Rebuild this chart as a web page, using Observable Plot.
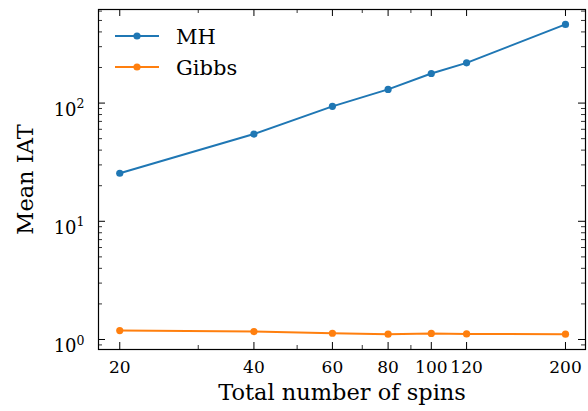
<!DOCTYPE html>
<html><head><meta charset="utf-8">
<script src="https://cdn.jsdelivr.net/npm/d3@7"></script>
<script src="https://cdn.jsdelivr.net/npm/@observablehq/plot@0.6"></script>
<style>body{margin:0;background:#fff} svg{display:block}</style>
</head><body><div id="chart"></div>
<script>
const spins = [20, 40, 60, 80, 100, 120, 200];
const mhIAT = [25.5, 54.7, 93.8, 130.6, 178, 219, 463];
const gibbsIAT = [1.19, 1.168, 1.13, 1.11, 1.125, 1.115, 1.11];
const seriesNames = ["MH", "Gibbs"];
const seriesColors = ["#1f77b4", "#ff7f0e"];
const xMajorTicks = [20, 40, 60, 80, 100, 120, 200];
const xMinorTicks = [30, 50, 70, 90];
const yMajorTicks = [1, 10, 100];
const yMinorTicks = [0.9, 2, 3, 4, 5, 6, 7, 8, 9, 20, 30, 40, 50, 60, 70, 80, 90, 200, 300, 400, 500, 600];
const xLabel = "Total number of spins";
const yLabel = "Mean IAT";

const data = [];
spins.forEach((s, i) => data.push({spins: s, iat: mhIAT[i], series: seriesNames[0]}));
spins.forEach((s, i) => data.push({spins: s, iat: gibbsIAT[i], series: seriesNames[1]}));

const W = 588, H = 411, mT = 9, mB = 62, mL = 98, mR = 3;
const innerH = H - mT - mB, innerW = W - mL - mR;
const serif = "'DejaVu Serif', serif";
const majLen = 7, minLen = 4;

const chart = Plot.plot({
  width: W, height: H, marginTop: mT, marginBottom: mB, marginLeft: mL, marginRight: mR,
  style: {fontFamily: serif, background: "#fff", color: "#000"},
  x: {type: "log", domain: [17.92, 221.8]},
  y: {type: "log", domain: [0.823, 619]},
  color: {domain: seriesNames, range: seriesColors},
  marks: [
    Plot.line(data, {x: "spins", y: "iat", stroke: "series", z: "series", strokeWidth: 2}),
    Plot.dot(data, {x: "spins", y: "iat", fill: "series", r: 3.6}),
    Plot.tickX(xMajorTicks, {x: d => d, insetTop: innerH - majLen, stroke: "#000", strokeWidth: 1}),
    Plot.tickX(xMajorTicks, {x: d => d, insetBottom: innerH - majLen, stroke: "#000", strokeWidth: 1}),
    Plot.tickX(xMinorTicks, {x: d => d, insetTop: innerH - minLen, stroke: "#000", strokeWidth: 0.8}),
    Plot.tickX(xMinorTicks, {x: d => d, insetBottom: innerH - minLen, stroke: "#000", strokeWidth: 0.8}),
    Plot.tickY(yMajorTicks, {y: d => d, insetRight: innerW - majLen, stroke: "#000", strokeWidth: 1}),
    Plot.tickY(yMajorTicks, {y: d => d, insetLeft: innerW - majLen, stroke: "#000", strokeWidth: 1}),
    Plot.tickY(yMinorTicks, {y: d => d, insetRight: innerW - minLen, stroke: "#000", strokeWidth: 0.8}),
    Plot.tickY(yMinorTicks, {y: d => d, insetLeft: innerW - minLen, stroke: "#000", strokeWidth: 0.8}),
    Plot.axisX({ticks: xMajorTicks, tickSize: 0, tickPadding: 11, tickFormat: d => String(d), fontSize: 17, label: null}),
    Plot.axisY({ticks: yMajorTicks, tickSize: 0, tickPadding: 14, tickFormat: d => "10^" + Math.round(Math.log10(d)), fontSize: 18, label: null}),
    Plot.frame({stroke: "#000", strokeWidth: 1.2}),
    Plot.text([xLabel], {frameAnchor: "bottom", textAnchor: "middle", dy: 50, text: d => d, fontSize: 22.5, fill: "#000"}),
    Plot.text([yLabel], {frameAnchor: "left", textAnchor: "middle", dx: -73, rotate: -90, text: d => d, fontSize: 22.5, fill: "#000"})
  ]
});

document.getElementById("chart").appendChild(chart);

// superscript formatting of y tick labels
d3.select(chart).selectAll('g[aria-label="y-axis tick label"] text').each(function() {
  const t = this.textContent;
  const [base, exp] = t.split("^");
  const sel = d3.select(this);
  sel.text(null).attr("dy", "0.38em");
  sel.append("tspan").text(base);
  sel.append("tspan").attr("font-size", 12.5).attr("dy", -7.5).text(exp);
});

// legend
const svg = d3.select(chart);
const leg = svg.append("g").attr("font-family", serif).attr("font-size", 21).attr("text-anchor", "start");
seriesNames.forEach((name, i) => {
  const y = 36 + i * 31;
  leg.append("line").attr("x1", 115).attr("x2", 159).attr("y1", y).attr("y2", y)
    .attr("stroke", seriesColors[i]).attr("stroke-width", 2);
  leg.append("circle").attr("cx", 137).attr("cy", y).attr("r", 3.6).attr("fill", seriesColors[i]);
  leg.append("text").attr("x", 176).attr("y", y).attr("dy", "0.36em").attr("fill", "#000").text(name);
});
</script>
</body></html>
